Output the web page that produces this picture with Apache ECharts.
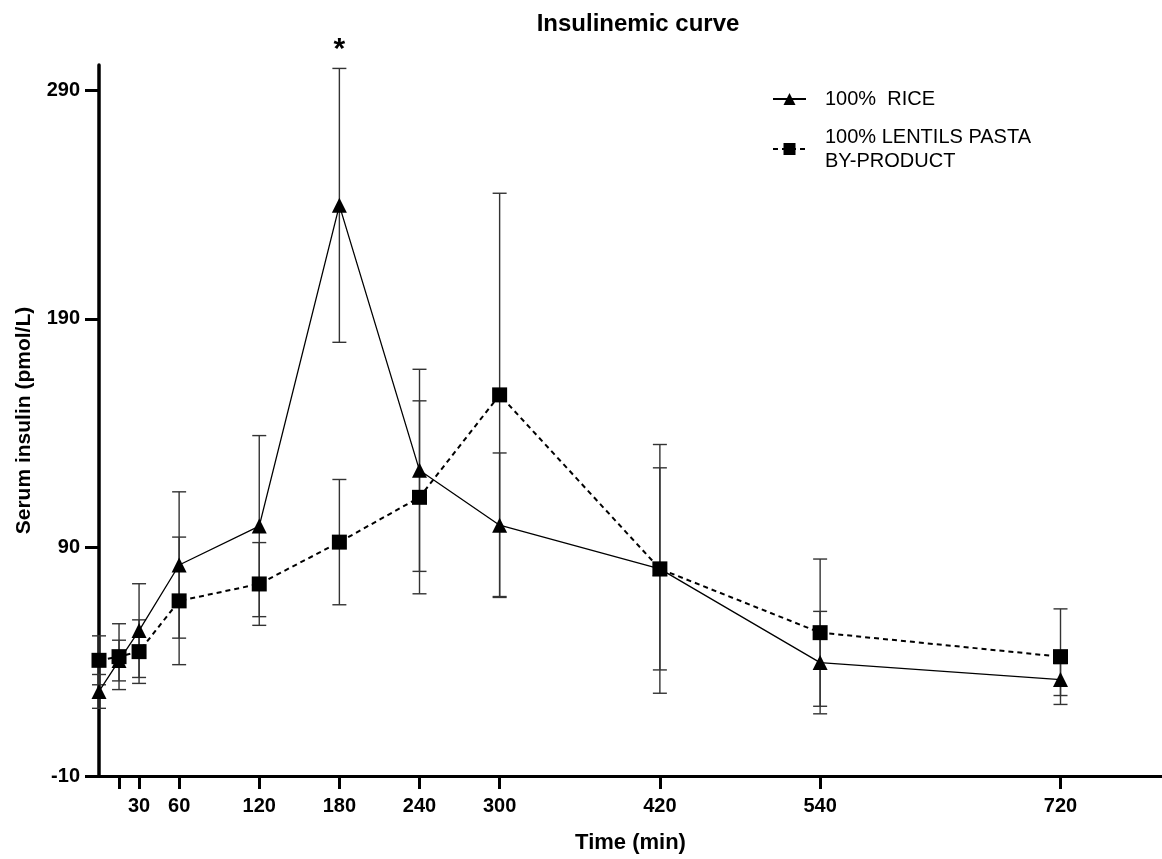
<!DOCTYPE html>
<html>
<head>
<meta charset="utf-8">
<script src="https://cdn.jsdelivr.net/npm/echarts@6/dist/echarts.min.js"></script>
<style>
html,body{margin:0;padding:0;background:#fff;}
#chart{width:1162px;height:859px;}
</style>
</head>
<body>
<div id="chart"></div>
<script>
// ---- data ----
const times = [0, 15, 30, 60, 120, 180, 240, 300, 420, 540, 720];
const riceMean = [27.0, 40.5, 53.6, 82.3, 99.3, 239.6, 123.7, 99.7, 80.6, 39.6, 32.2];
const riceErr = [7.4, 8.9, 20.5, 32.0, 39.6, 59.9, 44.2, 31.6, 44.2, 22.4, 7.0];
const lentilMean = [40.6, 42.2, 44.4, 66.6, 74.0, 92.3, 111.9, 156.7, 80.6, 52.7, 42.2];
const lentilErr = [10.7, 14.4, 13.9, 27.9, 18.1, 27.4, 42.2, 88.2, 54.4, 32.2, 20.9];
const significance = ['', '', '', '', '', '*', '', '', '', '', ''];
const xTickValues = [15, 30, 60, 120, 180, 240, 300, 420, 540, 720];
const xLabelValues = [30, 60, 120, 180, 240, 300, 420, 540, 720];
const yTickValues = [-10, 90, 190, 290];
const seriesNames = ['100%  RICE', '100% LENTILS PASTA\nBY-PRODUCT'];

const FONT = '"Liberation Sans", Arial, sans-serif';

function pairs(means) { return times.map((t, i) => [t, means[i]]); }
function errData(means, errs, marks) {
  return times.map((t, i) => [t, means[i] - errs[i], means[i] + errs[i], marks ? (marks[i] || '') : '']);
}

function makeErrRender(marks) {
  return function (params, api) {
    const x = api.value(0), lo = api.value(1), hi = api.value(2);
    const pLo = api.coord([x, lo]);
    const pHi = api.coord([x, hi]);
    const hw = 7;
    const st = { stroke: '#333', lineWidth: 1.4 };
    const children = [
      { type: 'line', shape: { x1: pLo[0], y1: pLo[1], x2: pHi[0], y2: pHi[1] }, style: st },
      { type: 'line', shape: { x1: pHi[0] - hw, y1: pHi[1], x2: pHi[0] + hw, y2: pHi[1] }, style: st },
      { type: 'line', shape: { x1: pLo[0] - hw, y1: pLo[1], x2: pLo[0] + hw, y2: pLo[1] }, style: st }
    ];
    if (marks) {
      const mark = marks[params.dataIndex];
      if (mark) {
        children.push({
          type: 'text',
          style: { text: mark, x: pHi[0], y: pHi[1] - 4, align: 'center', verticalAlign: 'bottom',
                   font: 'bold 30px ' + FONT, fill: '#000' }
        });
      }
    }
    return { type: 'group', children: children };
  };
}

const chart = echarts.init(document.getElementById('chart'), null, { renderer: 'canvas' });
chart.setOption({
  backgroundColor: '#fff',
  animation: false,
  title: {
    text: 'Insulinemic curve',
    left: 633, top: 7, textAlign: 'center',
    textStyle: { fontFamily: FONT, fontWeight: 'bold', fontSize: 24, color: '#000' }
  },
  legend: {
    orient: 'vertical',
    left: 767, top: 82,
    itemWidth: 33, itemHeight: 15, itemGap: 14,
    data: seriesNames,
    textStyle: { fontFamily: FONT, fontSize: 20, color: '#000', lineHeight: 24, padding: [0, 0, 0, 14] }
  },
  grid: { left: 99, right: 0, top: 65, bottom: 80, containLabel: false },
  xAxis: {
    type: 'value', min: 0, max: 796,
    name: 'Time (min)', nameLocation: 'middle', nameGap: 56,
    nameTextStyle: { fontFamily: FONT, fontWeight: 'bold', fontSize: 22, color: '#000' },
    axisLine: { show: true, onZero: false, lineStyle: { color: '#000', width: 3 } },
    axisTick: { show: true, length: 13, lineStyle: { color: '#000', width: 3 }, customValues: xTickValues },
    axisLabel: { margin: 20, fontFamily: FONT, fontWeight: 'bold', fontSize: 20, color: '#000', customValues: xLabelValues },
    splitLine: { show: false }
  },
  yAxis: {
    type: 'value', min: -10, max: 301,
    name: 'Serum insulin (pmol/L)', nameLocation: 'middle', nameGap: 64,
    nameTextStyle: { fontFamily: FONT, fontWeight: 'bold', fontSize: 21, color: '#000' },
    axisLine: { show: true, onZero: false, lineStyle: { color: '#000', width: 3.5 } },
    axisTick: { show: true, length: 14, lineStyle: { color: '#000', width: 3 }, customValues: yTickValues },
    axisLabel: { margin: 19, fontFamily: FONT, fontWeight: 'bold', fontSize: 20, color: '#000', customValues: yTickValues },
    splitLine: { show: false }
  },
  series: [
    {
      type: 'custom', name: 'riceErr', silent: true, z: 1,
      renderItem: makeErrRender(significance),
      encode: { x: 0, y: [1, 2] },
      data: errData(riceMean, riceErr, significance)
    },
    {
      type: 'custom', name: 'lentilErr', silent: true, z: 1,
      renderItem: makeErrRender(null),
      encode: { x: 0, y: [1, 2] },
      data: errData(lentilMean, lentilErr, null)
    },
    {
      type: 'line', name: seriesNames[0], z: 3,
      data: pairs(riceMean),
      symbol: 'triangle', symbolSize: 15, showAllSymbol: true,
      lineStyle: { color: '#000', width: 1.3, type: 'solid' },
      itemStyle: { color: '#000' }
    },
    {
      type: 'line', name: seriesNames[1], z: 3,
      data: pairs(lentilMean),
      symbol: 'rect', symbolSize: 15, showAllSymbol: true,
      lineStyle: { color: '#000', width: 2, type: [5, 4] },
      itemStyle: { color: '#000' }
    }
  ]
});
</script>
</body>
</html>
